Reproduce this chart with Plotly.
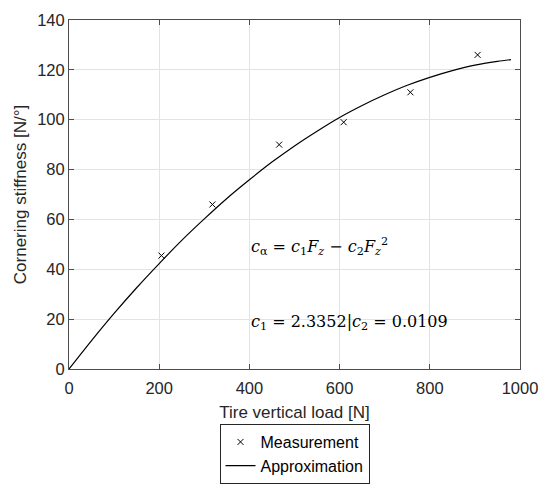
import plotly.graph_objects as go

# measured points (tire vertical load [N], cornering stiffness [N/deg])
meas_load = [205, 318, 466, 609, 757, 906]
meas_stiff = [45.5, 66.0, 90.0, 99.0, 111.0, 126.0]

# approximation curve
approx_load = [0, 50, 100, 150, 200, 250, 300, 350, 400, 450, 500,
               550, 600, 650, 700, 750, 800, 850, 900, 950, 980]
approx_stiff = [0.0, 11.4, 22.3, 32.6, 42.3, 51.6, 60.2, 68.4, 75.9, 83.0, 89.5,
                95.4, 100.9, 105.7, 110.0, 113.8, 117.0, 119.7, 121.9, 123.4, 124.1]

x_ticks = [0, 200, 400, 600, 800, 1000]
y_ticks = [0, 20, 40, 60, 80, 100, 120, 140]

fig = go.Figure()
fig.add_trace(go.Scatter(
    x=meas_load, y=meas_stiff, mode="markers", name="Measurement",
    marker=dict(symbol="x-thin", size=6, line=dict(color="black", width=1), color="black"),
))
fig.add_trace(go.Scatter(
    x=approx_load, y=approx_stiff, mode="lines", name="Approximation",
    line=dict(color="black", width=1.2, shape="spline", smoothing=0.8),
))

eq_font = dict(family="DejaVu Serif", size=16, color="black")
fig.add_annotation(x=398, y=49.0, xanchor="left", yanchor="middle", showarrow=False,
                   text="<i>c</i><sub>α</sub> = <i>c</i><sub>1</sub><i>F</i><sub><i>z</i></sub>"
                        " − <i>c</i><sub>2</sub><i>F</i><sub><i>z</i></sub><sup>2</sup>",
                   font=eq_font)
fig.add_annotation(x=398, y=18.7, xanchor="left", yanchor="middle", showarrow=False,
                   text="<i>c</i><sub>1</sub> = 2.3352|<i>c</i><sub>2</sub> = 0.0109",
                   font=eq_font)

label_font = dict(family="Liberation Sans", size=17, color="#262626")
axis_common = dict(
    showline=True, linecolor="#4d4d4d", linewidth=1, mirror="allticks",
    ticks="inside", ticklen=5, tickcolor="#4d4d4d",
    showgrid=True, gridcolor="#e3e3e3", gridwidth=1, zeroline=False,
    automargin=False,
    tickfont=dict(family="Liberation Sans", size=16.5, color="#262626"),
)

fig.update_xaxes(range=[0, 1000], tickvals=x_ticks, ticklabelstandoff=4,
                 title=dict(text="Tire vertical load [N]", standoff=10, font=label_font),
                 **axis_common)
fig.update_yaxes(range=[0, 140], tickvals=y_ticks,
                 title=dict(text="Cornering stiffness [N/°]", standoff=6, font=label_font),
                 **axis_common)

fig.update_layout(
    width=550, height=488,
    margin=dict(l=61, r=38, t=12, b=127),
    plot_bgcolor="white", paper_bgcolor="white",
    showlegend=True,
    legend=dict(x=0.5, xanchor="center", y=0.1475, yanchor="top", yref="container",
                bordercolor="#262626", borderwidth=1, bgcolor="white",
                font=dict(family="Liberation Sans", size=16, color="black"),
                tracegroupgap=0, itemwidth=30),
)

fig.write_html("out.html")
